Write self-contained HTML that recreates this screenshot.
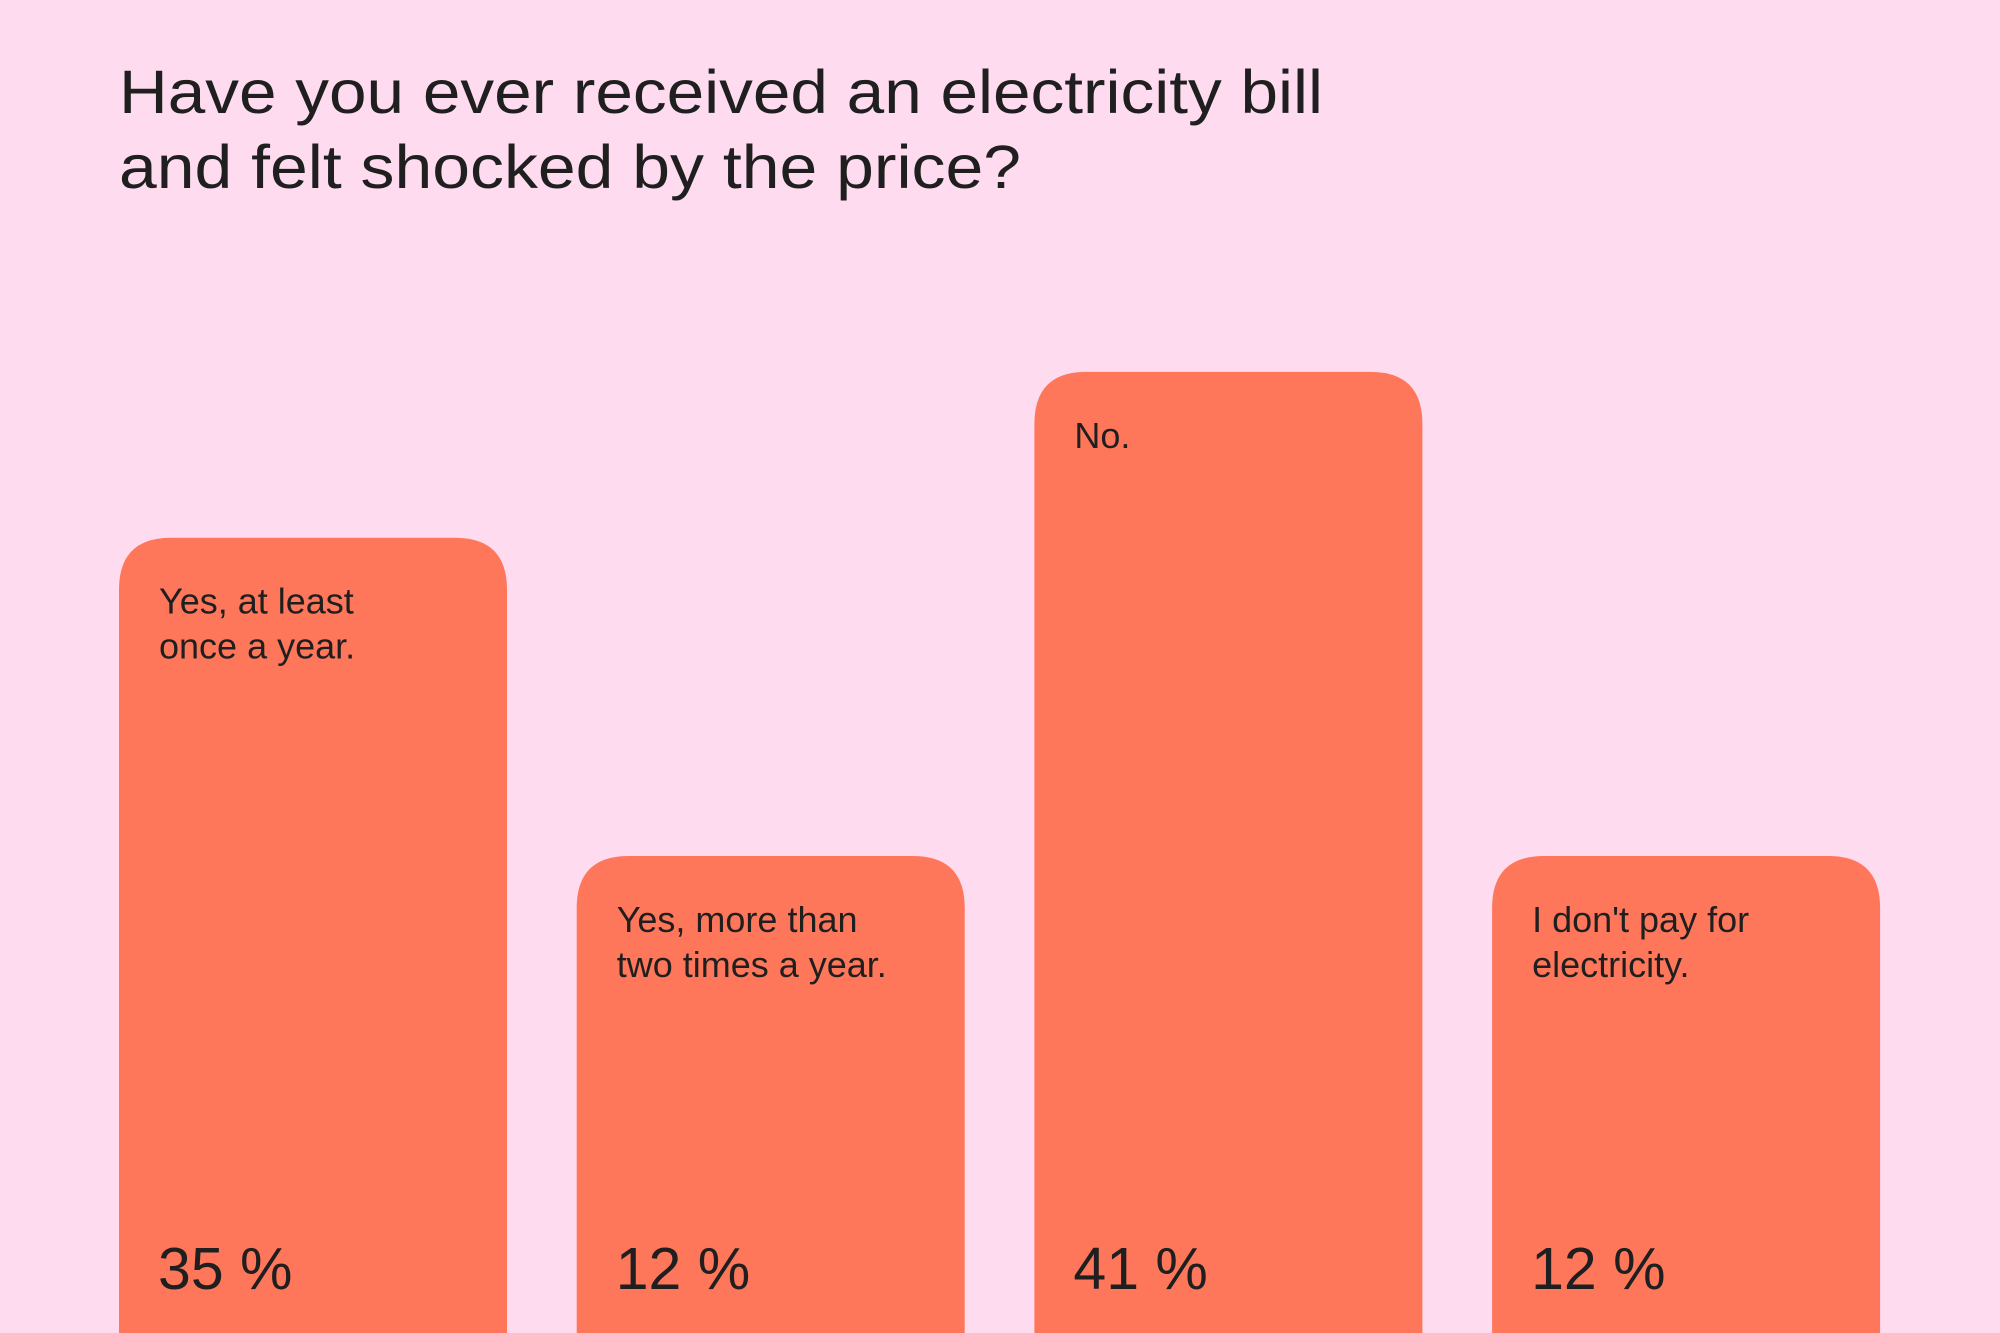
<!DOCTYPE html>
<html><head><meta charset="utf-8"><style>
html,body{margin:0;padding:0;background:#FFDBEF;overflow:hidden;width:2000px;height:1333px;}
svg{display:block;overflow:hidden;}
text{font-family:"Liberation Sans",sans-serif;fill:#1f1f1f;}
</style></head><body>
<svg id="chart" width="2000" height="1333" viewBox="0 0 2000 1333" xmlns="http://www.w3.org/2000/svg">
<rect width="2000" height="1333" fill="#FFDBEF"/>
<text x="119" y="113" font-size="61" textLength="1204" lengthAdjust="spacingAndGlyphs">Have you ever received an electricity bill</text>
<text x="119" y="188" font-size="61" textLength="902" lengthAdjust="spacingAndGlyphs">and felt shocked by the price?</text>
<g id="bars"></g>
</svg>
<script>
const categories = [["Yes, at least","once a year."],["Yes, more than","two times a year."],["No."],["I don't pay for","electricity."]];
const values = [35, 12, 41, 12];
const valueLabels = ["35 %","12 %","41 %","12 %"];

const NS = "http://www.w3.org/2000/svg";
const barW = 388, step = 457.7, x0 = 119, radius = 52;
function xPos(i){ return x0 + i*step; }
function yPos(v){ return 879.5 - 0.04716*Math.pow(v,2.5); }
const g = document.getElementById('bars');
values.forEach((v,i)=>{
  const x = xPos(i), y = yPos(v), bottom = 1333;
  const p = document.createElementNS(NS,'path');
  p.setAttribute('d',`M${x},${bottom} V${y+radius} Q${x},${y} ${x+radius},${y} H${x+barW-radius} Q${x+barW},${y} ${x+barW},${y+radius} V${bottom} Z`);
  p.setAttribute('fill','#FF775A');
  
  
  g.appendChild(p);
  categories[i].forEach((line,j)=>{
    const t = document.createElementNS(NS,'text');
    t.setAttribute('x', x+40);
    t.setAttribute('y', y+76+j*45);
    t.setAttribute('font-size','36');
    t.textContent = line;
    
    
    g.appendChild(t);
  });
  const vt = document.createElementNS(NS,'text');
  vt.setAttribute('x', x+39);
  vt.setAttribute('y', 1289);
  vt.setAttribute('font-size','59');
  vt.textContent = valueLabels[i];
  
  
  g.appendChild(vt);
});
</script>
</body></html>
